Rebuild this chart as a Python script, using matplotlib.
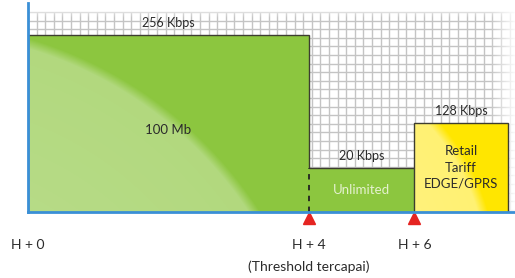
import numpy as np
import matplotlib.pyplot as plt

# segments of the package, in hours after activation
seg_edges = [0, 4, 5.5, 6.83]
bar_height = [177, 44, 89]
speed_labels = ["256 Kbps", "20 Kbps", "128 Kbps"]
inside_labels = ["100 Mb", "Unlimited", "Retail\nTariff\nEDGE/GPRS"]
tick_pos = [0, 4, 5.5]
tick_labels = ["H + 0", "H + 4", "H + 6"]
marker_pos = [4, 5.5]
threshold_note = "(Threshold tercapai)"

green = "#8cc63f"
yellow = "#ffe600"
blue = "#3a8fd6"
edge = "#3d3d30"
txt = "#2b2b2b"
plt.rcParams["font.family"] = ["Lato", "DejaVu Sans"]

px = 70.25  # pixels per hour on the x axis
fig = plt.figure(figsize=(5.15, 2.78), dpi=100)
ax = fig.add_axes([28 / 515, 66 / 278, 487 / 515, 209 / 278])
xmax = 487 / px
ax.set_xlim(0, xmax)
ax.set_ylim(0, 209)

# background grid
step = 8.6
ax.vlines(np.arange(0, xmax, step / px), 0, 200, color="#c4c4c4", lw=1.0, zorder=1)
ax.hlines(np.arange(200, 0, -step), 0, xmax, color="#c4c4c4", lw=1.0, zorder=1)

# fade grid at top and right
fade = np.ones((50, 1, 4))
fade[:, 0, 3] = np.clip(np.linspace(-0.3, 1.2, 50), 0, 1)
ax.imshow(fade, extent=[0, xmax, 190, 209], origin="lower", aspect="auto", zorder=1.5)
fade2 = np.ones((1, 50, 4))
fade2[0, :, 3] = np.clip(np.linspace(0, 0.9, 50), 0, 1)
ax.imshow(fade2, extent=[xmax - 25 / px, xmax, 0, 209], origin="lower", aspect="auto", zorder=1.5)

lefts = seg_edges[:-1]
widths = np.diff(seg_edges)
bars = ax.bar(lefts, bar_height, widths, align="edge", color=[green, green, yellow], lw=0, zorder=2)

# soft lighter highlight inside first and last bars
def highlight(patch, x0, w, h, cx, cy, r, strength):
    wpx = int(w * px)
    xx, yy = np.meshgrid(np.arange(wpx), np.arange(int(h)))
    d = np.hypot(xx - cx, yy - cy)
    a = np.clip((r - d) / 10, 0, 1) * (strength + 0.12 * (1 - d / r))
    img = np.ones(xx.shape + (4,))
    img[..., 3] = a
    im = ax.imshow(img, extent=[x0, x0 + w, 0, h], origin="lower", aspect="auto", zorder=2.5)
    im.set_clip_path(patch)

highlight(bars[0], lefts[0], widths[0], bar_height[0], -117, -225, 415, 0.33)
highlight(bars[2], lefts[2], widths[2], bar_height[2], -149, -61, 230, 0.45)

# outlines
ax.stairs(bar_height, seg_edges, baseline=0, fill=False, color=edge, lw=1.0, zorder=3)
ax.vlines(seg_edges[2], 0, bar_height[1], color=edge, lw=1.0, zorder=3)
ax.vlines(seg_edges[1], 0, bar_height[1], color="#222222", lw=1.3, linestyles=(0, (3, 3)), zorder=3)

for i in range(3):
    cx = lefts[i] + widths[i] / 2
    ax.text(cx, bar_height[i] + 12, speed_labels[i], ha="center", va="center", fontsize=9, color=txt, zorder=4)
    col = "#e4f1cf" if i == 1 else txt
    yl = bar_height[i] / 2 - (6 if i == 0 else 0)
    ax.text(cx, yl, inside_labels[i], ha="center", va="center", fontsize=9.5,
            color=col, linespacing=1.45, zorder=4)

ax.plot(marker_pos, [-6] * len(marker_pos), "^", color="#e52421", ms=9, clip_on=False, zorder=5)
for p, lab in zip(tick_pos, tick_labels):
    ax.text(p, -33, lab, ha="center", va="center", fontsize=10, color=txt, clip_on=False)
ax.text(tick_pos[1], -55, threshold_note, ha="center", va="center", fontsize=10, color=txt, clip_on=False)

for s in ["top", "right"]:
    ax.spines[s].set_visible(False)
for s in ["left", "bottom"]:
    ax.spines[s].set_color(blue)
    ax.spines[s].set_linewidth(2)
    ax.spines[s].set_zorder(6)
ax.set_xticks([])
ax.set_yticks([])

fig.savefig("out.png", dpi=100)
